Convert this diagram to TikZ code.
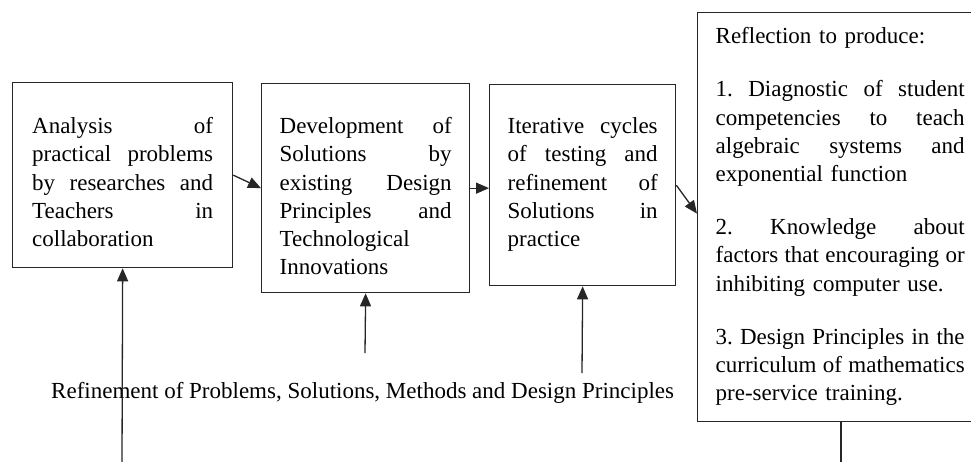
\documentclass[tikz,border=0pt]{standalone}
\usepackage{fontspec}
\setmainfont{Liberation Serif}
\usetikzlibrary{arrows.meta}
\newcommand{\jl}[1]{\makebox[\hsize][s]{\spaceskip=0.25em plus 1fil minus 0.1em\relax #1}}
\begin{document}
\begin{tikzpicture}[x=1pt,y=-1pt,
  box/.style={draw=black!85, line width=1.3pt, anchor=north west, align=left,
    inner ysep=0pt, font=\fontsize{23}{28.2}\selectfont\frenchspacing},
  arr/.style={draw=black!85, line width=1.3pt, -{Triangle[length=13pt,width=11pt]}},
  lbl/.style={font=\fontsize{23}{28.2}\selectfont, inner sep=0pt}
  ]
\useasboundingbox (0,0) rectangle (971,461);

\node[box, text width=181pt, inner xsep=19.5pt, text height=51pt, text depth=134pt] (b1) at (12,82)
  {\jl{Analysis of}\\ \jl{practical problems}\\ \jl{by researches and}\\ \jl{Teachers in}\\ collaboration};

\node[box, text width=172pt, inner xsep=18pt, text height=50pt, text depth=159pt] (b2) at (261,83)
  {\jl{Development of}\\ \jl{Solutions by}\\ \jl{existing Design}\\ \jl{Principles and}\\ Technological\\ Innovations};

\node[box, text width=150pt, inner xsep=18pt, text height=49pt, text depth=152pt] (b3) at (489,84)
  {\jl{Iterative cycles}\\ \jl{of testing and}\\ \jl{refinement of}\\ \jl{Solutions in}\\ practice};

\node[box, text width=249pt, inner xsep=18pt, text height=31pt, text depth=378pt] (b4) at (697,12)
  {Reflection to produce:\\[25pt]
   \jl{1. Diagnostic of student}\\ \jl{competencies to teach}\\ \jl{algebraic systems and}\\ exponential function\\[25pt]
   \jl{2. Knowledge about}\\ \jl{factors that encouraging or}\\ inhibiting computer use.\\[25pt]
   \jl{3. Design Principles in the}\\ \jl{curriculum of mathematics}\\ pre-service training.};

\node[lbl, anchor=base west] (ref) at (51,398)
  {Refinement of Problems, Solutions, Methods and Design Principles};

\coordinate (s1) at (122,463);
\coordinate (s2) at (365,353);
\coordinate (s3) at (582,373);
\coordinate (e4) at (841,463);

\draw[arr] (b1.east) -- (b2.west);
\draw[arr] (b2.east) -- (b3.west |- b2.east);
\draw[arr] (b3.east) -- ([yshift=3.5pt]b4.west);
\draw[arr] (s1) -- (b1.south);
\draw[arr] (s2) -- (b2.south);
\draw[arr] (s3) -- (b3.south);
\draw[draw=black!85, line width=1.3pt] (b4.south -| e4) -- (e4);
\end{tikzpicture}
\end{document}
